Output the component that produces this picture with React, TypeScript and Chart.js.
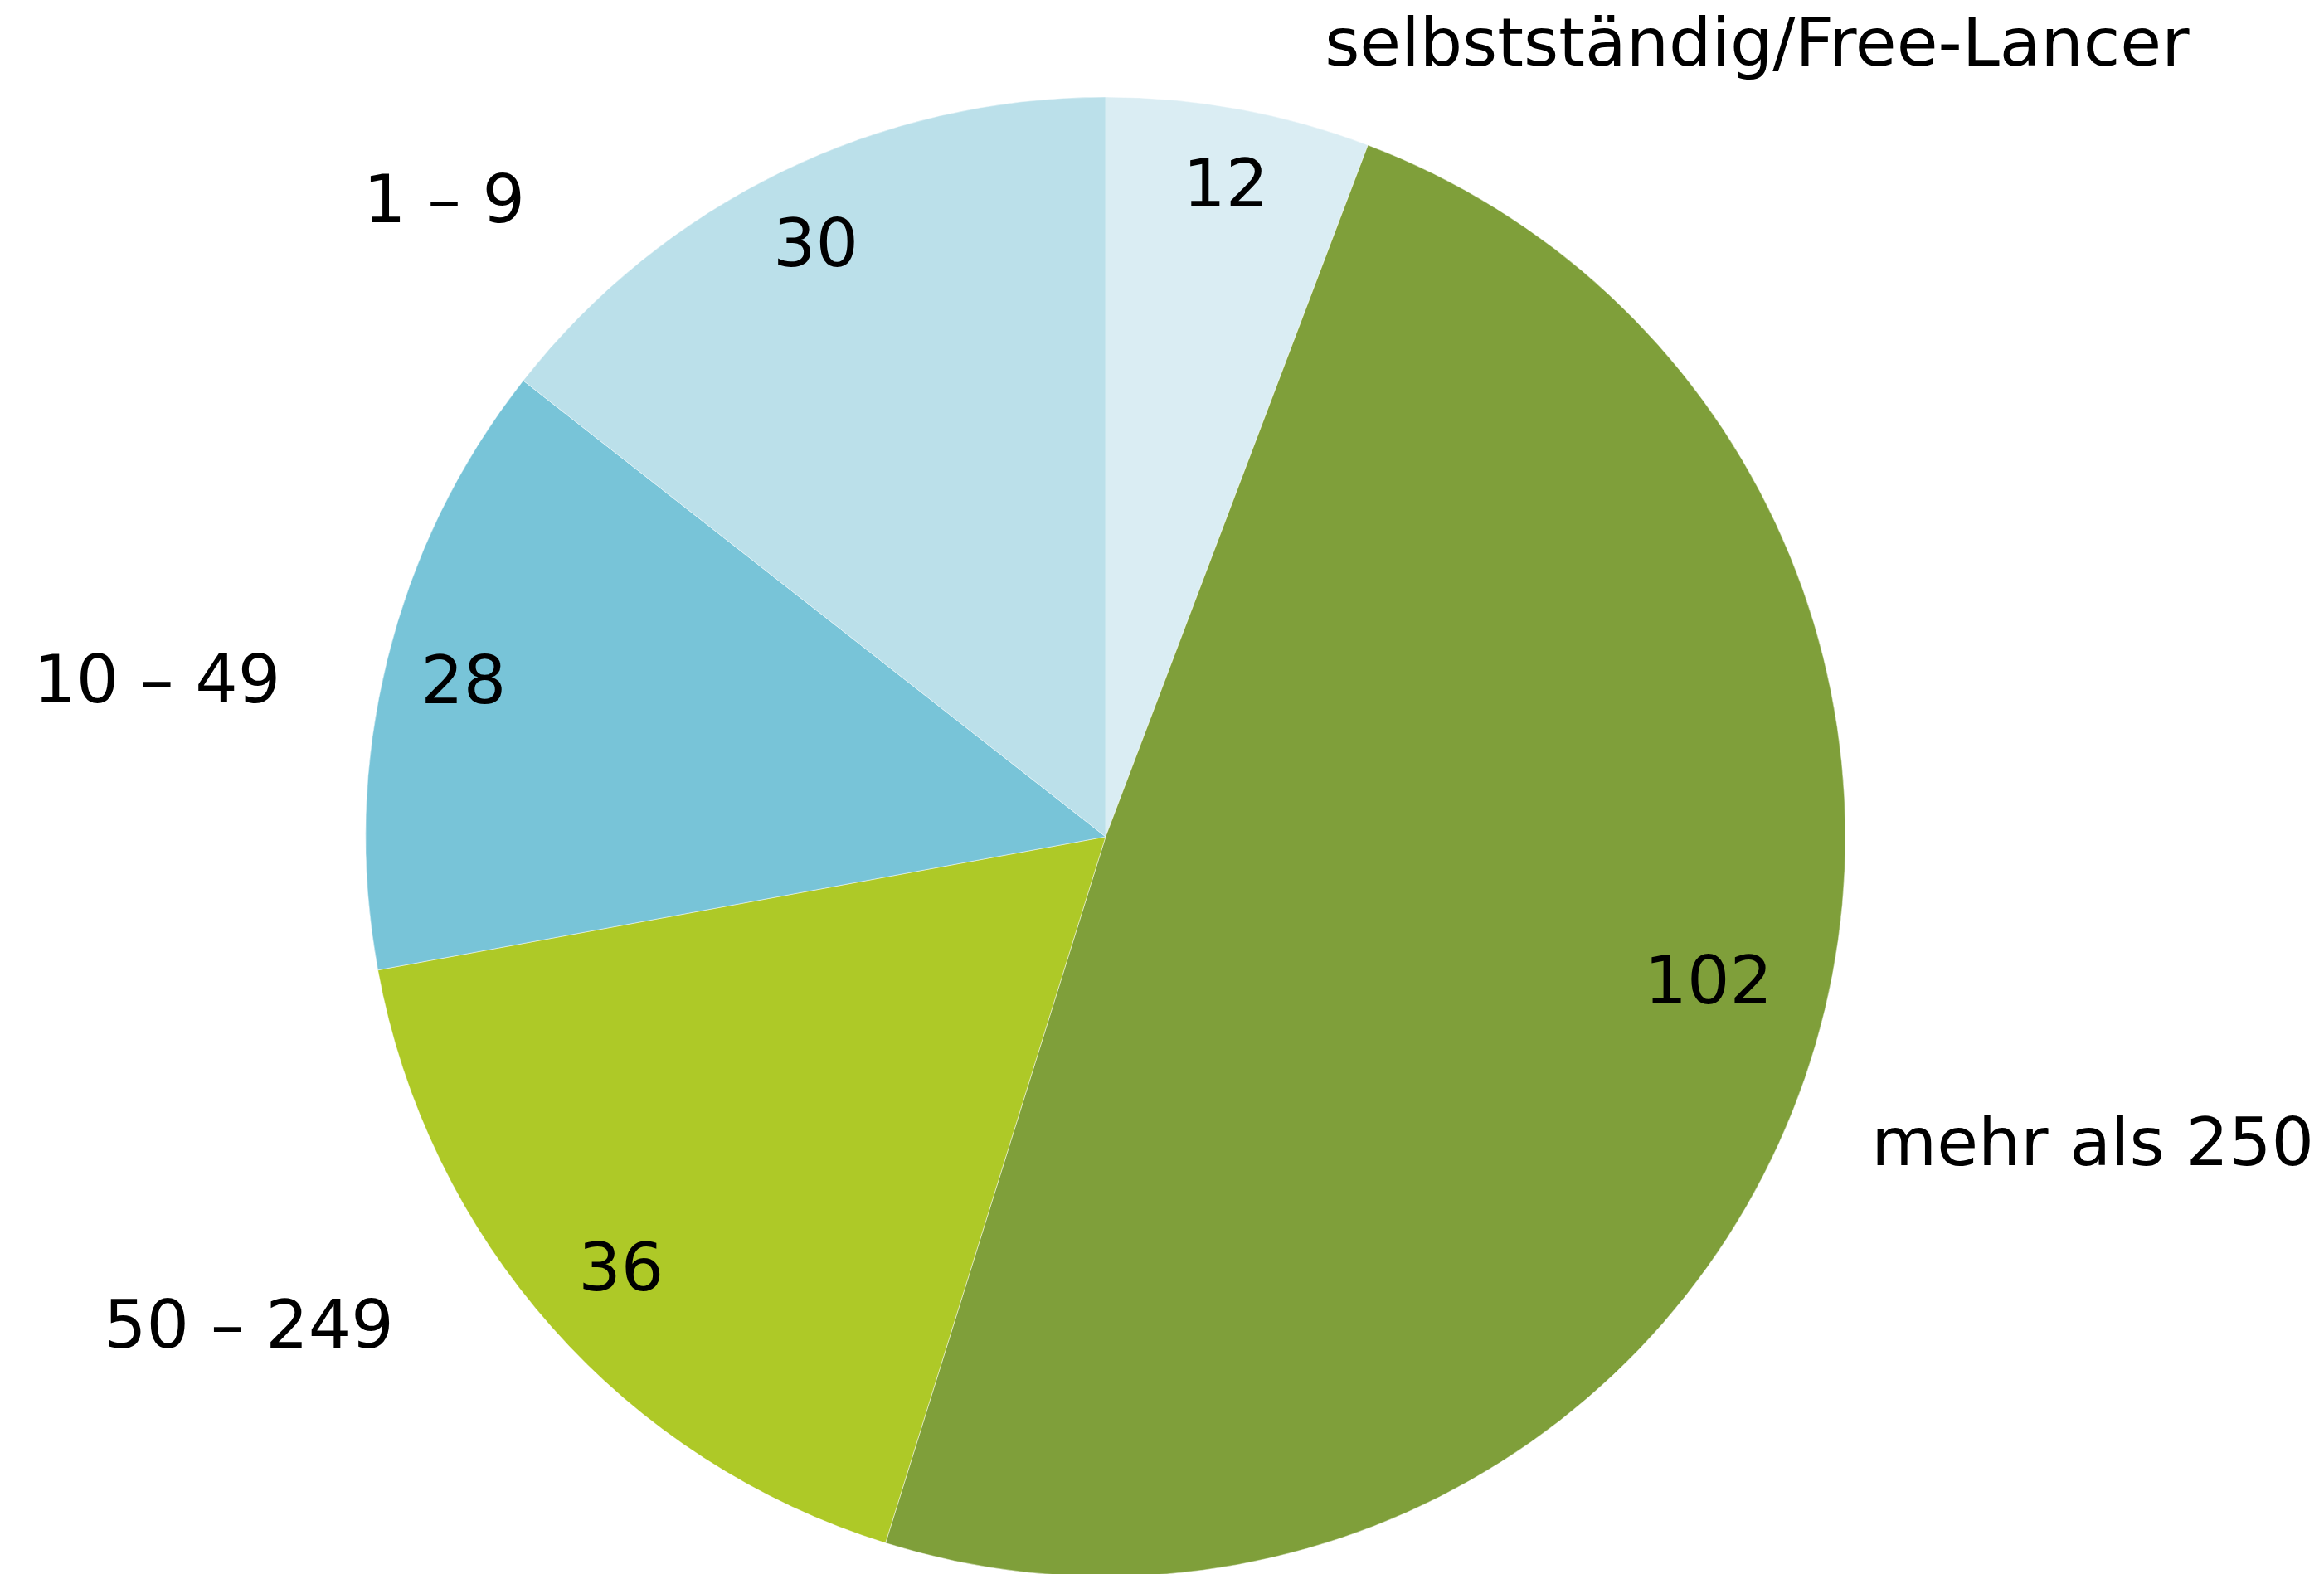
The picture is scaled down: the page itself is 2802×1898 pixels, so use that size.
import React, { useEffect, useRef } from "react";
import { Chart, registerables } from "chart.js";

Chart.register(...registerables);

// ---- data ----
const categories = ["selbstständig/Free-Lancer", "mehr als 250", "50 – 249", "10 – 49", "1 – 9"];
const values = [12, 102, 36, 28, 30];
const colors = ["#DAEDF3", "#7F9F3A", "#AEC927", "#78C4D8", "#BBE0EA"];

// ---- label placement (polar, relative to the pie's own centre and radius) ----
const valueLabelRadius = [0.9, 0.837, 0.875, 0.894, 0.895];
const valueLabelAngleShift = [0, -5.8, 0, 0, 0]; // degrees
const categoryLabelAngle = [39.3, 107.1, 240.4, 279.5, 314]; // degrees clockwise from top
const categoryLabelRadius = [1.39, 1.396, 1.332, 1.3, 1.243];

const FONT_SIZE = 81;
const FONT = `${FONT_SIZE}px "DejaVu Sans", Verdana, sans-serif`;

const labelPlugin = {
  id: "pieLabels",
  afterDatasetsDraw(chart: any) {
    const ctx = chart.ctx as CanvasRenderingContext2D;
    const meta = chart.getDatasetMeta(0);
    ctx.save();
    ctx.font = FONT;
    ctx.fillStyle = "#000";
    ctx.textAlign = "center";
    ctx.textBaseline = "alphabetic";
    const dy = FONT_SIZE * 0.365;
    meta.data.forEach((arc: any, i: number) => {
      const p = arc.getProps(["x", "y", "startAngle", "endAngle", "outerRadius"], true);
      const mid = (p.startAngle + p.endAngle) / 2 + (valueLabelAngleShift[i] * Math.PI) / 180;
      const rv = p.outerRadius * valueLabelRadius[i];
      ctx.fillText(String(values[i]), p.x + Math.cos(mid) * rv, p.y + Math.sin(mid) * rv + dy);
      const a = -Math.PI / 2 + (categoryLabelAngle[i] * Math.PI) / 180;
      const rc = p.outerRadius * categoryLabelRadius[i];
      ctx.fillText(categories[i], p.x + Math.cos(a) * rc, p.y + Math.sin(a) * rc + dy);
    });
    ctx.restore();
  },
};

export default function App() {
  const ref = useRef<HTMLCanvasElement | null>(null);
  useEffect(() => {
    if (!ref.current) return;
    const chart = new Chart(ref.current, {
      type: "pie",
      data: {
        labels: categories,
        datasets: [
          {
            data: values,
            backgroundColor: colors,
            borderColor: "rgba(255,255,255,0.45)",
            borderWidth: 1,
            radius: 892,
          } as any,
        ],
      },
      options: {
        responsive: false,
        animation: false,
        layout: { padding: { left: 0, right: 136, top: 120, bottom: 0 } },
        plugins: {
          legend: { display: false },
          tooltip: { enabled: false },
        },
      },
      plugins: [labelPlugin],
    });
    return () => chart.destroy();
  }, []);
  return (
    <div style={{ position: "fixed", left: 0, top: 0, width: 2802, height: 1898, background: "#fff" }}>
      <canvas ref={ref} width={2802} height={1898} style={{ display: "block" }} />
    </div>
  );
}
